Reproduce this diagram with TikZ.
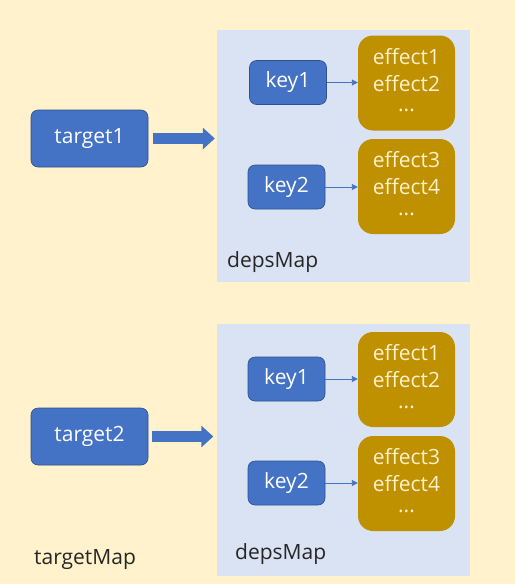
\documentclass[tikz,border=0pt]{standalone}
\usepackage{fontspec}
\setmainfont{Open Sans}
\usetikzlibrary{arrows.meta}
\definecolor{bg}{HTML}{FFF2CC}
\definecolor{panel}{HTML}{DAE3F3}
\definecolor{blu}{HTML}{4472C4}
\definecolor{bluedge}{HTML}{2F528F}
\definecolor{gold}{HTML}{BF9000}
\definecolor{cream}{HTML}{FFF2CC}
\definecolor{ink}{HTML}{262626}
\newcommand{\mydots}{\raisebox{0.3em}{...}}
\tikzset{
  panelbox/.style={fill=panel, draw=none, minimum width=253pt, minimum height=252pt, inner sep=0pt},
  keybox/.style={draw=bluedge, line width=0.6pt, fill=blu, rounded corners=7pt, text=white,
    minimum width=77pt, minimum height=44pt, inner sep=0pt, font=\fontsize{21}{25}\selectfont},
  targetbox/.style={keybox, minimum width=117pt, minimum height=57pt},
  effbox/.style={fill=gold, rounded corners=15pt, text=cream, minimum width=97pt, minimum height=95pt,
    inner sep=0pt, align=center, font=\fontsize{21}{27}\selectfont},
  lbl/.style={anchor=base west, inner sep=0pt, text=ink, font=\fontsize{21}{25}\selectfont},
  thinarrow/.style={draw=blu, line width=0.9pt, -{Triangle[length=6pt,width=6pt]}},
  bigarrow/.style={draw=blu, line width=11pt, -{Triangle[length=12pt,width=21pt]}},
}
\begin{document}
\begin{tikzpicture}[x=1pt, y=-1pt]
\useasboundingbox (0,0) rectangle (515,584);
\fill[bg] (0,0) rectangle (515,584);
% top panel
\node[panelbox] (dm1) at (343.5,156) {};
\node[lbl] (dl1) at (227,267) {depsMap};
\node[keybox] (k1a) at (288,82.5) {key1};
\node[keybox] (k2a) at (286.5,187) {key2};
\node[effbox] (e1a) at (406.5,83) {effect1\\effect2\\\mydots};
\node[effbox] (e2a) at (406.5,186.5) {effect3\\effect4\\\mydots};
\node[targetbox] (t1) at (89.5,138.5) {target1};
\draw[thinarrow] (k1a.east) -- (k1a.east -| e1a.west);
\draw[thinarrow] (k2a.east) -- (k2a.east -| e2a.west);
\draw[bigarrow, shorten <=5pt, shorten >=2pt] (t1.east) -- (t1.east -| dm1.west);
% bottom panel
\node[panelbox] (dm2) at (343,449.5) {};
\node[lbl] (dl2) at (235,559) {depsMap};
\node[keybox] (k1b) at (286.5,379) {key1};
\node[keybox] (k2b) at (286.5,483) {key2};
\node[effbox] (e1b) at (406.5,379.5) {effect1\\effect2\\\mydots};
\node[effbox] (e2b) at (406.5,483.5) {effect3\\effect4\\\mydots};
\node[targetbox] (t2) at (89.5,436.5) {target2};
\draw[thinarrow] (k1b.east) -- (k1b.east -| e1b.west);
\draw[thinarrow] (k2b.east) -- (k2b.east -| e2b.west);
\draw[bigarrow, shorten <=4pt, shorten >=3pt] (t2.east) -- (t2.east -| dm2.west);
\node[lbl] (tm) at (34,564) {targetMap};
\end{tikzpicture}
\end{document}
